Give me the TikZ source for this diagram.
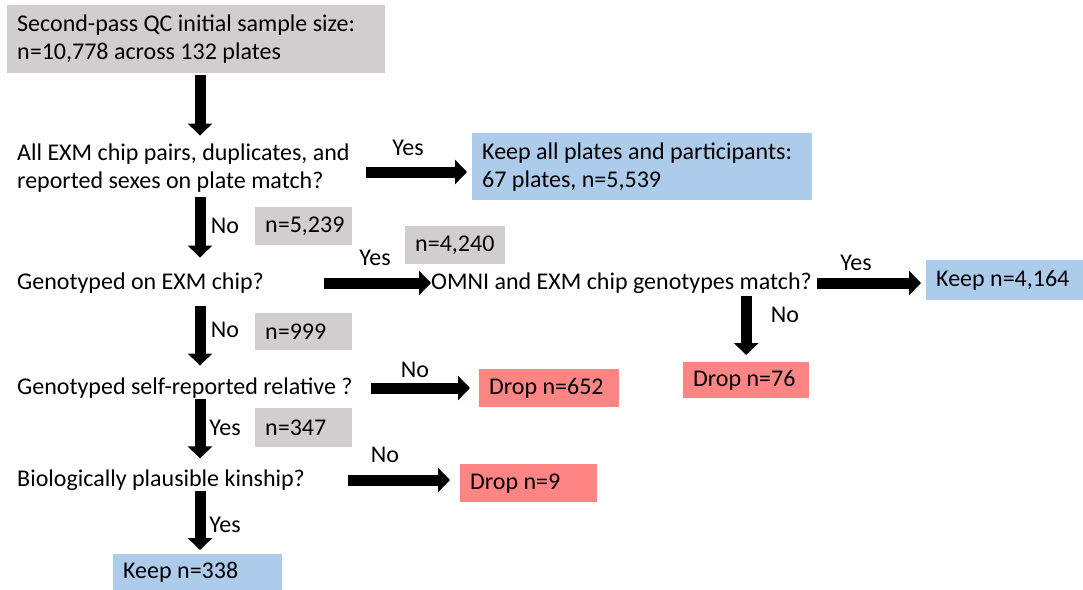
\documentclass[tikz,border=0pt]{standalone}
\usepackage{fontspec}
\setmainfont{Carlito}
\usetikzlibrary{arrows.meta}

\definecolor{boxgray}{HTML}{D0CECE}
\definecolor{boxblue}{HTML}{ADCBEA}
\definecolor{boxred}{HTML}{FF8585}

\tikzset{
  every node/.style={font=\fontsize{24}{28}\selectfont},
  box/.style={inner xsep=10pt, inner ysep=0pt, align=flush left, anchor=north west},
  graybox/.style={box, fill=boxgray},
  bluebox/.style={box, fill=boxblue},
  redbox/.style={box, fill=boxred},
  question/.style={inner sep=0pt, align=flush left, anchor=west},
  lbl/.style={inner sep=0pt},
  fat/.style={line width=11pt, -{Triangle[length=12pt,width=24pt]}}
}

\begin{document}
\begin{tikzpicture}[x=1pt,y=-1pt]
\useasboundingbox (0,0) rectangle (1083,589);
\coordinate (col) at (200,0);
% boxes
\node[graybox, text width=358, minimum height=68] (start) at (7,5) {Second-pass QC initial sample size:\\n=10,778 across 132 plates};
\node[bluebox, text width=320, minimum height=67] (keep1) at (472,133) {Keep all plates and participants:\\67 plates, n=5,539};
\node[graybox, text width=77, minimum height=38] (n5239) at (255,207) {n=5,239};
\node[graybox, text width=80, minimum height=38] (n4240) at (405,226) {n=4,240};
\node[bluebox, text width=137, minimum height=40] (keep2) at (926,260) {Keep n=4,164};
\node[graybox, text width=77, minimum height=37] (n999) at (255,313) {n=999};
\node[redbox, text width=106, minimum height=36] (drop76) at (683,362) {Drop n=76};
\node[redbox, text width=120, minimum height=38] (drop652) at (479,369) {Drop n=652};
\node[graybox, text width=77, minimum height=39] (n347) at (255,408) {n=347};
\node[redbox, text width=117, minimum height=38] (drop9) at (460,464) {Drop n=9};
\node[bluebox, text width=149, minimum height=36] (keep3) at (113,554) {Keep n=338};
% questions
\node[question] (q1) at (17,168) {All EXM chip pairs, duplicates, and\\reported sexes on plate match?};
\node[question] (q2) at (17,283) {Genotyped on EXM chip?};
\node[question] (q3) at (431,283) {OMNI and EXM chip genotypes match?};
\node[question] (q4) at (17,388) {Genotyped self-reported relative ?};
\node[question] (q5) at (17,480) {Biologically plausible kinship?};
% labels
\node[lbl] (y1) at (408,148) {Yes};
\node[lbl] (n1) at (225,226) {No};
\node[lbl] (y2) at (375,258) {Yes};
\node[lbl] (y3) at (856,263) {Yes};
\node[lbl] (n2) at (785,315) {No};
\node[lbl] (n3) at (225,330) {No};
\node[lbl] (n4) at (415,370) {No};
\node[lbl] (y4) at (225,428) {Yes};
\node[lbl] (n5) at (385,455) {No};
\node[lbl] (y5) at (225,525) {Yes};
% arrows
\draw[fat, shorten <=2, shorten >=8] (start.south -| col) -- (q1.north -| col);
\draw[fat, shorten <=16, shorten >=5] ([yshift=-4pt]q1.east) -- ([yshift=-4pt]q1.east -| keep1.west);
\draw[fat, shorten <=5, shorten >=15] (q1.south -| col) -- (q2.north -| col);
\draw[fat, shorten <=60] (q2.east) -- (q3.west);
\draw[fat, shorten <=5, shorten >=5] (q3.east) -- (keep2.west |- q3.east);
\draw[fat, shorten <=2, shorten >=7] (q3.south -| drop76.north) -- (drop76.north);
\draw[fat, shorten <=13, shorten >=12] (q2.south -| col) -- (q4.north -| col);
\draw[fat, shorten <=18, shorten >=9] (q4.east) -- (q4.east -| drop652.west);
\draw[fat, shorten <=1, shorten >=11] (q4.south -| col) -- (q5.north -| col);
\draw[fat, shorten <=43, shorten >=10] (q5.east) -- (q5.east -| drop9.west);
\draw[fat, shorten <=0, shorten >=4] (q5.south -| col) -- (keep3.north -| col);
\end{tikzpicture}
\end{document}
